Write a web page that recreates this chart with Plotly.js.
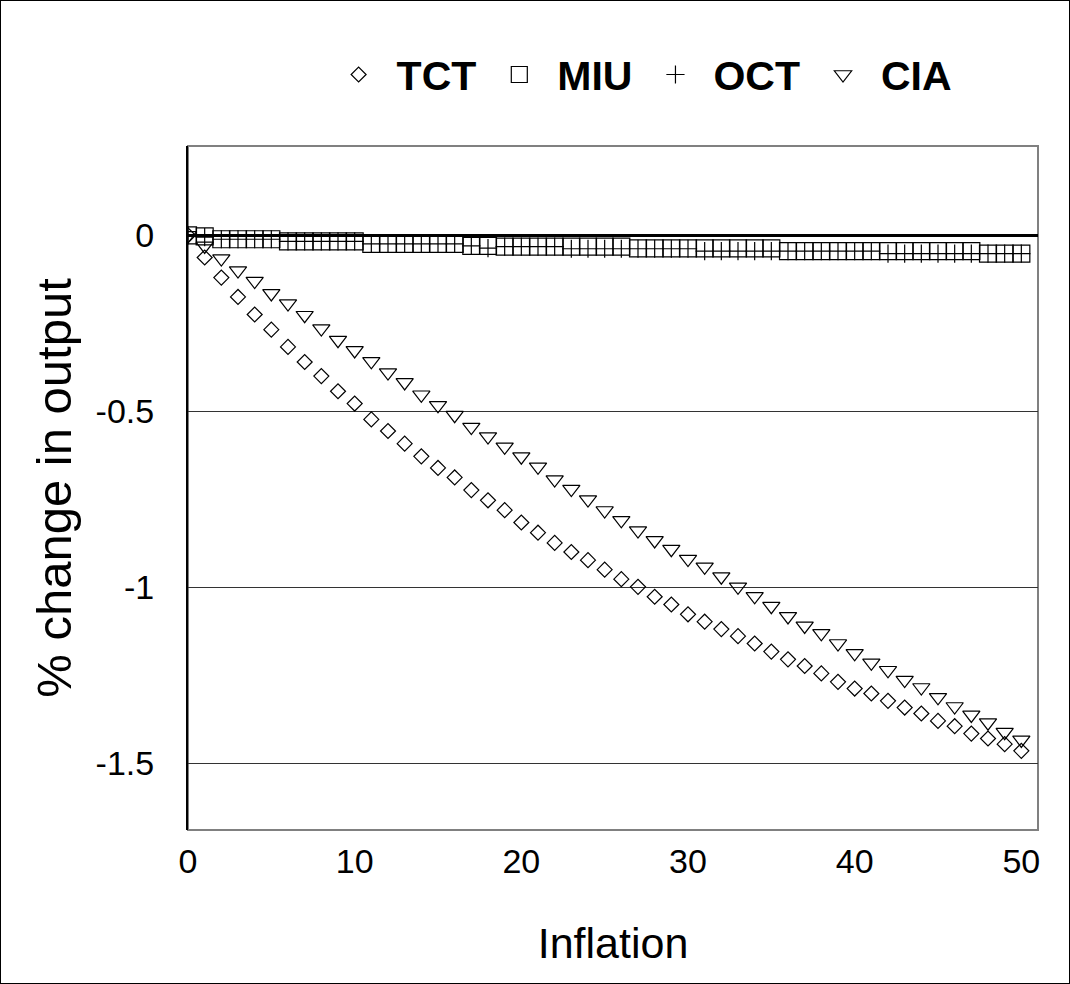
<!DOCTYPE html>
<html>
<head>
<meta charset="utf-8">
<script src="https://cdn.plot.ly/plotly-3.0.1.min.js"></script>
<style>
  html, body { margin: 0; padding: 0; background: #fff; }
  #wrap { position: relative; width: 1070px; height: 984px; }
  #chart { width: 1070px; height: 984px; }
  #frame { position: absolute; left: 0; top: 0; width: 1070px; height: 984px; box-sizing: border-box; border: 1px solid #000; pointer-events: none; }
</style>
</head>
<body>
<div id="wrap"><div id="chart"></div><div id="frame"></div></div>
<script>
// Inflation rate (x) 0..50
const inflation = [0,1,2,3,4,5,6,7,8,9,10,11,12,13,14,15,16,17,18,19,20,21,22,23,24,25,26,27,28,29,30,31,32,33,34,35,36,37,38,39,40,41,42,43,44,45,46,47,48,49,50];

const tct = [0,-0.063,-0.120,-0.175,-0.225,-0.268,-0.317,-0.360,-0.400,-0.443,-0.478,-0.523,-0.556,-0.592,-0.628,-0.661,-0.688,-0.724,-0.753,-0.781,-0.816,-0.845,-0.874,-0.900,-0.923,-0.950,-0.977,-0.999,-1.027,-1.049,-1.077,-1.098,-1.119,-1.139,-1.160,-1.183,-1.205,-1.224,-1.245,-1.269,-1.288,-1.302,-1.323,-1.342,-1.359,-1.380,-1.395,-1.416,-1.430,-1.446,-1.465];

const miu = [0,-0.003,-0.011,-0.011,-0.011,-0.011,-0.017,-0.017,-0.017,-0.017,-0.017,-0.024,-0.024,-0.024,-0.024,-0.024,-0.024,-0.030,-0.030,-0.032,-0.032,-0.032,-0.032,-0.032,-0.032,-0.032,-0.032,-0.037,-0.037,-0.037,-0.037,-0.037,-0.037,-0.037,-0.037,-0.037,-0.045,-0.045,-0.045,-0.045,-0.045,-0.045,-0.045,-0.045,-0.045,-0.045,-0.045,-0.045,-0.052,-0.052,-0.052];

const oct = [0,-0.005,-0.011,-0.011,-0.011,-0.011,-0.017,-0.017,-0.017,-0.017,-0.017,-0.024,-0.024,-0.024,-0.024,-0.024,-0.024,-0.030,-0.036,-0.032,-0.032,-0.032,-0.032,-0.038,-0.038,-0.038,-0.038,-0.038,-0.038,-0.038,-0.038,-0.045,-0.045,-0.045,-0.045,-0.045,-0.045,-0.045,-0.045,-0.045,-0.045,-0.045,-0.052,-0.052,-0.052,-0.052,-0.052,-0.052,-0.052,-0.052,-0.052];

const cia = [0,-0.030,-0.066,-0.100,-0.130,-0.165,-0.194,-0.227,-0.265,-0.298,-0.327,-0.358,-0.390,-0.418,-0.453,-0.483,-0.511,-0.545,-0.572,-0.601,-0.629,-0.658,-0.694,-0.721,-0.751,-0.782,-0.810,-0.839,-0.867,-0.892,-0.920,-0.942,-0.970,-0.999,-1.026,-1.054,-1.083,-1.110,-1.131,-1.160,-1.188,-1.215,-1.236,-1.264,-1.285,-1.313,-1.339,-1.363,-1.385,-1.412,-1.434];

const seriesNames = ["TCT", "MIU", "OCT", "CIA"];
const xTickVals = [0, 10, 20, 30, 40, 50];
const xTickText = ["0", "10", "20", "30", "40", "50"];
const yTickVals = [0, -0.5, -1, -1.5];
const yTickText = ["0", "-0.5", "-1", "-1.5"];

const FONT = "Liberation Sans, Arial, sans-serif";

function tr(name, y, symbol, size) {
  return {
    type: "scatter", mode: "markers", name: name,
    x: inflation, y: y,
    marker: { symbol: symbol, size: size, color: "#000", line: { color: "#000", width: 1.2 } },
    cliponaxis: true
  };
}

const data = [
  tr(seriesNames[0], tct, "diamond-open", 11.5),
  tr(seriesNames[1], miu, "square-open", 17),
  tr(seriesNames[2], oct, "cross-thin-open", 13),
  tr(seriesNames[3], cia, "triangle-down-open", 15)
];

const layout = {
  width: 1070, height: 984,
  margin: { l: 188, r: 32, t: 146, b: 154 },
  paper_bgcolor: "#fff", plot_bgcolor: "#fff",
  font: { family: FONT, color: "#000", size: 32 },
  showlegend: true,
  legend: {
    orientation: "h", x: 0.156, xanchor: "left", y: 1.153, yanchor: "top",
    font: { family: FONT, size: 41, color: "#000", weight: "bold" },
    itemwidth: 66, bgcolor: "rgba(0,0,0,0)", borderwidth: 0
  },
  xaxis: {
    range: [0, 51], showgrid: false, zeroline: false, showline: false,
    tickmode: "array", tickvals: xTickVals, ticktext: xTickText,
    ticks: "", tickfont: { family: FONT, size: 34 }, ticklabelstandoff: 8,
    title: { text: "Inflation", font: { family: FONT, size: 43 }, standoff: 48 }
  },
  yaxis: {
    range: [-1.69, 0.254], showgrid: true, gridcolor: "#333", gridwidth: 1,
    zeroline: true, zerolinecolor: "#000", zerolinewidth: 3,
    showline: true, linecolor: "#000", linewidth: 2,
    tickmode: "array", tickvals: yTickVals, ticktext: yTickText,
    ticks: "", tickfont: { family: FONT, size: 34 }, ticklabelstandoff: 25,
    title: { text: "% change in output", font: { family: FONT, size: 49 }, standoff: 8 }
  },
  shapes: [
    { type: "rect", xref: "paper", yref: "paper", x0: 0, x1: 1, y0: 0, y1: 1, line: { color: "#808080", width: 2 }, layer: "below" }
  ]
};

Plotly.newPlot("chart", data, layout, { displayModeBar: false, staticPlot: true });
</script>
</body>
</html>
